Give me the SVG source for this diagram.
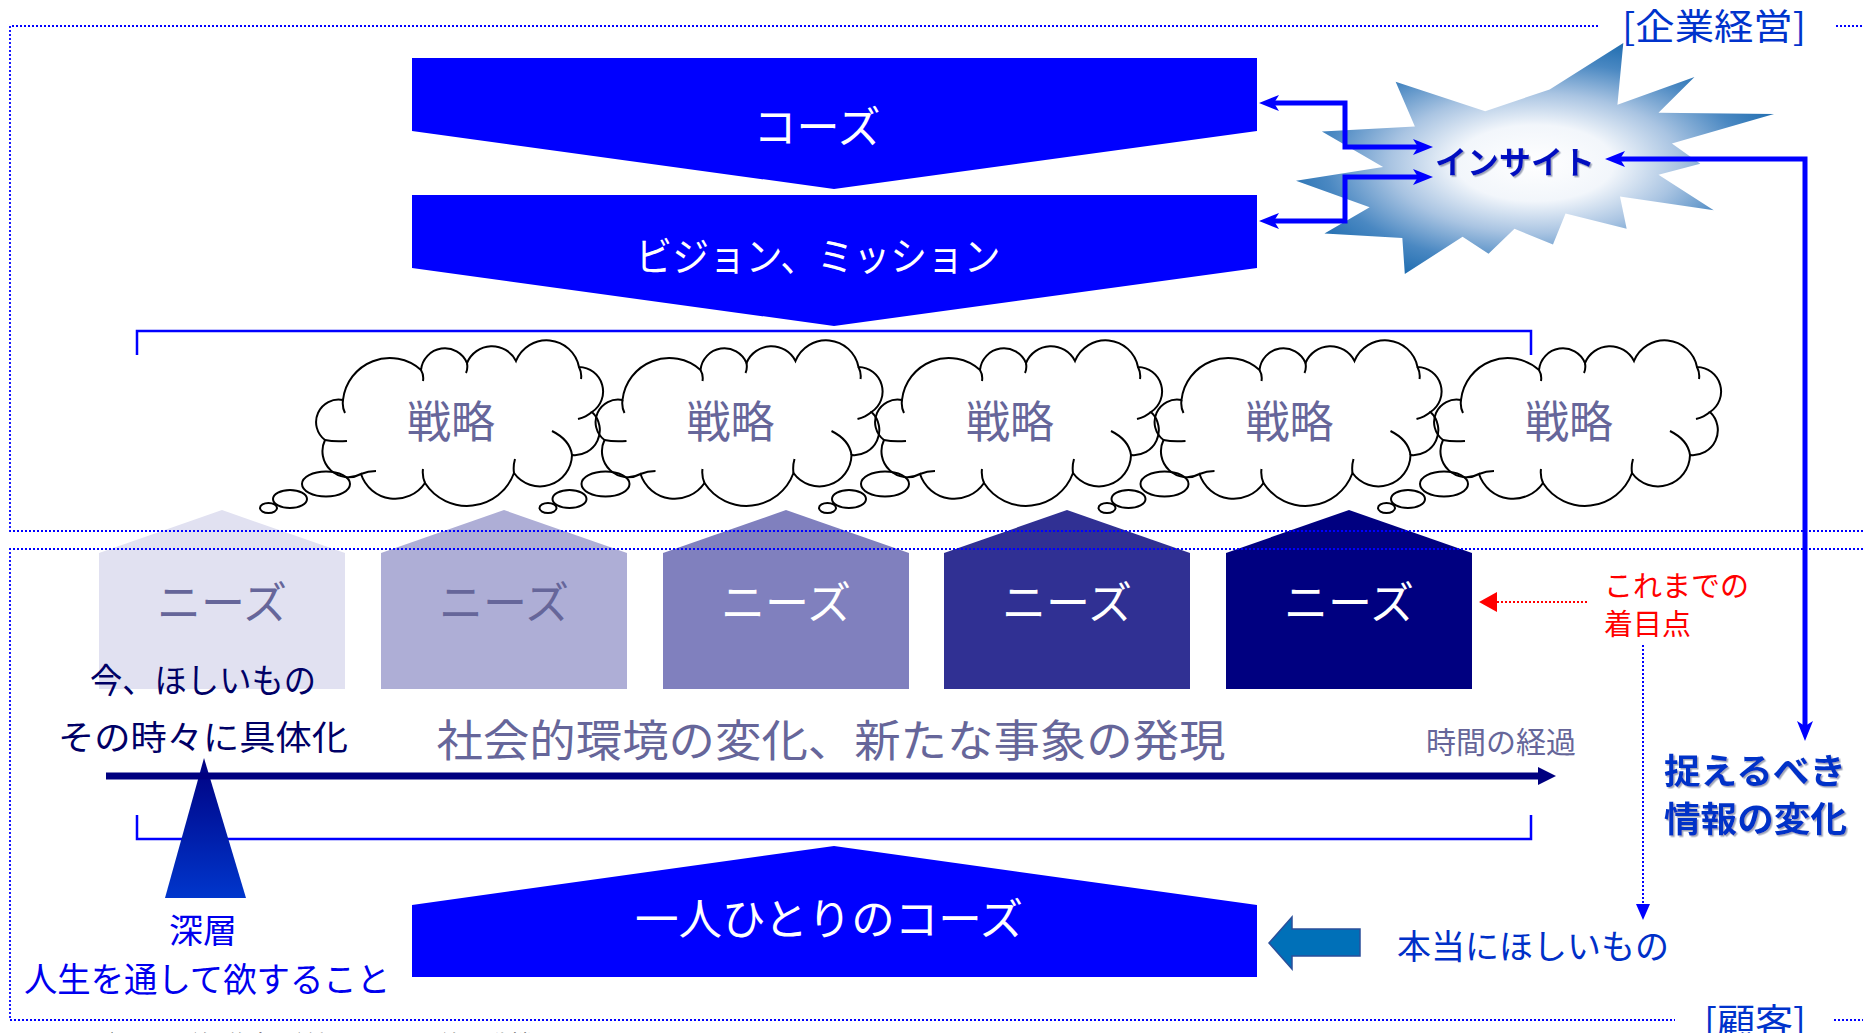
<svg xmlns="http://www.w3.org/2000/svg" width="1863" height="1033" viewBox="0 0 1863 1033">
<style>
text{font-family:'Noto Sans CJK JP','Noto Sans',sans-serif;dominant-baseline:central}
.frame{fill:none;stroke:#0000ff;stroke-width:1.8;stroke-dasharray:2 2}
.brk{fill:none;stroke:#0000ff;stroke-width:2.5}
.cloud{fill:none;stroke:#000;stroke-width:2}
.cloudt{font-size:44px;fill:#66669a;text-anchor:middle}
.needs{font-size:44px;text-anchor:middle}
.wt{fill:#fff;text-anchor:middle}
.conn{fill:none;stroke:#0000ff;stroke-width:5}
.gray{fill:#66669a}
.navy{fill:#000066}
.blue{fill:#0030c8}
</style>
<defs>
<marker id="stealth" viewBox="0 0 20 16" refX="8" refY="8" markerWidth="20" markerHeight="16" markerUnits="userSpaceOnUse" orient="auto-start-reverse">
<path d="M0,0 L20,8 L0,16 L5,8 Z" fill="#0000ff"/>
</marker>
<radialGradient id="burst" cx="0.5" cy="0.52" r="0.55">
<stop offset="0" stop-color="#ffffff"/>
<stop offset="0.3" stop-color="#f2f6fb"/>
<stop offset="0.55" stop-color="#a9c4e2"/>
<stop offset="0.8" stop-color="#4a88c2"/>
<stop offset="1" stop-color="#1f6db0"/>
</radialGradient>
<linearGradient id="tri" x1="0" y1="0" x2="0" y2="1">
<stop offset="0" stop-color="#000080"/>
<stop offset="1" stop-color="#0036cc"/>
</linearGradient>
<filter id="sh" x="-5%" y="-20%" width="110%" height="140%">
<feDropShadow dx="1.5" dy="1.5" stdDeviation="0.6" flood-color="#8890a8" flood-opacity="0.8"/>
</filter>
<g id="cloudShape">
<path class="cloud" d="M27,55 A47,47 0 0 1 105,25 A24,24 0 0 1 151,18 A27,27 0 0 1 200,16 A33,33 0 0 1 263,22 A24.5,24.5 0 0 1 276,67 A25,25 0 0 1 256,110 A32,32 0 0 1 198,128 A50,50 0 0 1 109,138 A36,36 0 0 1 45,129 A26,26 0 0 1 9,95 A22.5,22.5 0 0 1 27,55 Z"/>
<path class="cloud" d="M105,25 Q108,30 107,36 M151,18 Q152,24 150,28 M263,22 Q266,28 265,34 M276,67 Q270,72 262,74 M256,110 Q254,95 236,86 M198,128 Q197,121 199,114 M109,138 Q106,131 107,124 M45,129 Q52,126 60,126 M9,95 Q18,97 31,96 M27,55 Q26,62 29,68"/>
<ellipse class="cloud" cx="10" cy="139" rx="24" ry="12.5"/>
<ellipse class="cloud" cx="-26" cy="154" rx="17" ry="9"/>
<ellipse class="cloud" cx="-47.5" cy="163" rx="8.5" ry="5"/>
</g>
</defs>
<rect width="1863" height="1033" fill="#fff"/>

<!-- needs houses -->
<g id="needs1"><polygon points="99,553 222,510 345,553 345,689 99,689" fill="#e1e1f1"/><text class="needs gray" x="222" y="600">ニーズ</text></g>
<g id="needs2"><polygon points="381,553 504,510 627,553 627,689 381,689" fill="#aeaed6"/><text class="needs gray" x="504" y="600">ニーズ</text></g>
<g id="needs3"><polygon points="663,553 786,510 909,553 909,689 663,689" fill="#8080be"/><text class="needs wt" x="786" y="600">ニーズ</text></g>
<g id="needs4"><polygon points="944,553 1067,510 1190,553 1190,689 944,689" fill="#303093"/><text class="needs wt" x="1067" y="600">ニーズ</text></g>
<g id="needs5"><polygon points="1226,553 1349,510 1472,553 1472,689 1226,689" fill="#000080"/><text class="needs wt" x="1349" y="600">ニーズ</text></g>

<!-- frames -->
<g id="frame-company">
<path class="frame" d="M1598,26 H10 V531 H1863 M1836,26 H1863"/>
<text x="1806" y="24" font-size="36" fill="#0033cc" text-anchor="end" textLength="184" lengthAdjust="spacingAndGlyphs">[企業経営]</text>
</g>
<g id="frame-customer">
<path class="frame" d="M1863,549 H10 V1020 H1675 M1834,1020 H1863"/>
<text x="1806" y="1019" font-size="36" fill="#0033cc" text-anchor="end" textLength="102" lengthAdjust="spacingAndGlyphs">[顧客]</text>
</g>

<!-- chevrons -->
<g id="cause"><polygon points="412,58 1257,58 1257,131 834,189 412,131" fill="#0000ff"/><text class="wt" x="817" y="124" font-size="43">コーズ</text></g>
<g id="vision"><polygon points="412,195 1257,195 1257,268 834,326 412,268" fill="#0000ff"/><text class="wt" x="818" y="254" font-size="40" textLength="365" lengthAdjust="spacingAndGlyphs">ビジョン、ミッション</text></g>
<g id="personal-cause"><polygon points="412,905 834,846 1257,905 1257,977 412,977" fill="#0000ff"/><text class="wt" x="829" y="916" font-size="43" textLength="388" lengthAdjust="spacingAndGlyphs">一人ひとりのコーズ</text></g>

<!-- brackets -->
<g id="bracket-top"><path class="brk" d="M137,355 V331 H1531 V355"/></g>
<g id="bracket-bottom"><path class="brk" d="M137,815 V839 H1531 V815"/></g>

<!-- strategy clouds -->
<g id="strategy1"><use href="#cloudShape" transform="translate(316,345)"/><text class="cloudt" x="451" y="419">戦略</text></g>
<g id="strategy2"><use href="#cloudShape" transform="translate(595.5,345)"/><text class="cloudt" x="730.5" y="419">戦略</text></g>
<g id="strategy3"><use href="#cloudShape" transform="translate(875,345)"/><text class="cloudt" x="1010" y="419">戦略</text></g>
<g id="strategy4"><use href="#cloudShape" transform="translate(1154.5,345)"/><text class="cloudt" x="1289.5" y="419">戦略</text></g>
<g id="strategy5"><use href="#cloudShape" transform="translate(1434,345)"/><text class="cloudt" x="1569" y="419">戦略</text></g>

<!-- insight -->
<g id="insight">
<path transform="translate(1296,43) scale(0.02213,0.010694)" fill="url(#burst)" d="M11462,4342 L14790,0 L14525,5777 L18007,3172 L16380,6532 L21600,6645 L16985,9402 L18270,11290 L16380,12310 L18877,15632 L14640,14350 L14942,17370 L12180,15935 L11612,18842 L9872,17370 L8700,19712 L7527,18125 L4917,21600 L4805,18240 L1285,17825 L3330,15370 L0,12877 L3935,11592 L1172,8270 L5372,7817 L4502,3625 L8550,6382 Z"/>
<text x="1515" y="160" font-size="32" font-weight="bold" fill="#0010c0" text-anchor="middle" filter="url(#sh)">インサイト</text>
</g>

<!-- labels -->
<g id="time-text">
<text class="gray" x="831" y="738" font-size="44" text-anchor="middle" textLength="789" lengthAdjust="spacingAndGlyphs">社会的環境の変化、新たな事象の発現</text>
<text class="gray" x="1501" y="740" font-size="30" text-anchor="middle">時間の経過</text>
</g>
<g id="now-text">
<text class="navy" x="203" y="678" font-size="34" text-anchor="middle" textLength="226" lengthAdjust="spacingAndGlyphs">今、ほしいもの</text>
<text class="navy" x="203" y="735" font-size="34" text-anchor="middle" textLength="290" lengthAdjust="spacingAndGlyphs">その時々に具体化</text>
</g>
<g id="deep">
<polygon points="204,758 246,898 165,898" fill="url(#tri)"/>
<text x="203" y="928" font-size="34" fill="#0000ee" text-anchor="middle">深層</text>
<text x="207" y="977" font-size="34" fill="#0000ee" text-anchor="middle" textLength="366" lengthAdjust="spacingAndGlyphs">人生を通して欲すること</text>
</g>
<g id="focus">
<text x="1604" y="584" font-size="29" fill="#ff0000">これまでの</text>
<text x="1604" y="622" font-size="29" fill="#ff0000">着目点</text>
</g>
<g id="info-change">
<text class="blue" x="1664" y="768" font-size="35" font-weight="bold" textLength="182" lengthAdjust="spacingAndGlyphs" filter="url(#sh)">捉えるべき</text>
<text class="blue" x="1664" y="816" font-size="35" font-weight="bold" textLength="183" lengthAdjust="spacingAndGlyphs" filter="url(#sh)">情報の変化</text>
</g>
<g id="real-want">
<text class="blue" x="1397" y="944" font-size="34" textLength="272" lengthAdjust="spacingAndGlyphs">本当にほしいもの</text>
</g>
<g id="caption">
<text x="20" y="1043" font-size="26" fill="#000" textLength="522" lengthAdjust="spacingAndGlyphs">【コーズ】の定義(議論の前提となる定義・動機)</text>
</g>

<!-- connectors -->
<g id="connectors">
<path class="conn" d="M1271,103 H1345 V147 H1421" marker-start="url(#stealth)" marker-end="url(#stealth)"/>
<path class="conn" d="M1271,221 H1345 V177 H1421" marker-start="url(#stealth)" marker-end="url(#stealth)"/>
<path class="conn" d="M1617,159 H1805 V729" marker-start="url(#stealth)" marker-end="url(#stealth)"/>
<line x1="106" y1="776" x2="1540" y2="776" stroke="#000080" stroke-width="7"/>
<polygon points="1538,767 1556,776 1538,785" fill="#000080"/>
<line x1="1587" y1="602" x2="1494" y2="602" stroke="#ff0000" stroke-width="2" stroke-dasharray="2 2"/>
<polygon points="1479,602 1497,592 1497,612" fill="#ff0000"/>
<line x1="1643" y1="645" x2="1643" y2="906" stroke="#0000ff" stroke-width="2" stroke-dasharray="2 2"/>
<polygon points="1643,920 1636,904 1650,904" fill="#0000ff"/>
<polygon points="1269,943 1292,917 1292,929 1360,929 1360,956 1292,956 1292,969" fill="#0070b8" stroke="#2a4f9a" stroke-width="1.5"/>
</g>
</svg>
